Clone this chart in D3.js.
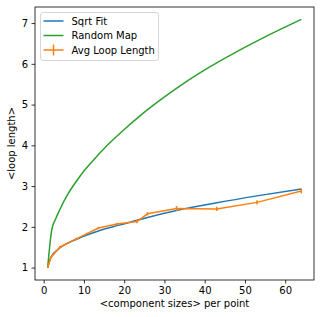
<!DOCTYPE html>
<html>
<head>
<meta charset="utf-8">
<script src="https://cdn.jsdelivr.net/npm/d3@7"></script>
<style>
  html, body { margin: 0; padding: 0; background: #fff; }
  svg text { font-family: "DejaVu Sans", sans-serif; font-size: 10px; fill: #000; }
  .spine { fill: none; stroke: #000; stroke-width: 0.8; }
  .tick line { stroke: #000; stroke-width: 0.8; }
</style>
</head>
<body>
<div id="chart"></div>
<script>
// values
var sizes      = [1, 1.8, 4, 8, 13.6, 18.2, 23.2, 25.8, 33, 43, 53, 64]
var avgLoop    = [1.0, 1.25, 1.5, 1.7, 1.97, 2.07, 2.13, 2.32, 2.45, 2.44, 2.6, 2.88]
var avgLoopErr = [0.01, 0.02, 0.03, 0.03, 0.03, 0.03, 0.04, 0.04, 0.06, 0.05, 0.05, 0.06]
var sqrtFit    = [1.0, 1.25, 1.48, 1.69, 1.9, 2.03, 2.16, 2.23, 2.4, 2.59, 2.76, 2.93]

var mapSizes   = [1, 2, 3, 4, 6, 8, 10, 12, 16, 20, 24, 28, 32, 40, 48, 56, 64]
var randomMap  = [1.0, 1.92, 2.2, 2.42, 2.8, 3.1, 3.37, 3.6, 4.02, 4.39, 4.73, 5.04, 5.33, 5.85, 6.3, 6.71, 7.09]

var xTicks = [0, 10, 20, 30, 40, 50, 60]
var yTicks = [1, 2, 3, 4, 5, 6, 7]

var width = 320
  , height = 317
  , margin = {top: 7, right: 6, bottom: 37, left: 35}
  , w = width - margin.left - margin.right
  , h = height - margin.top - margin.bottom

var svg = d3.select('#chart')
  .append('svg')
    .attr('width', width)
    .attr('height', height)

var g = svg.append('g')
  .attr('transform', 'translate(' + margin.left + ',' + margin.top + ')')

// matplotlib-style 5% margins around the data
var xPad = (64 - 1) * 0.05
  , yPad = (7.09 - 1) * 0.05
var x = d3.scaleLinear().domain([1 - xPad, 64 + xPad]).range([0, w])
var y = d3.scaleLinear().domain([1 - yPad, 7.09 + yPad]).range([h, 0])

var xAxis = g.append('g')
  .attr('transform', 'translate(0,' + h + ')')
  .call(d3.axisBottom(x).tickValues(xTicks).tickSize(3.5).tickPadding(3.5).tickFormat(d3.format('d')))
xAxis.select('.domain').remove()

var yAxis = g.append('g')
  .call(d3.axisLeft(y).tickValues(yTicks).tickSize(3.5).tickPadding(3.5).tickFormat(d3.format('d')))
yAxis.select('.domain').remove()

svg.selectAll('.tick text').attr('font-size', 10).attr('font-family', '"DejaVu Sans", sans-serif')

var line = d3.line()
  .x(function(d) { return x(d[0]) })
  .y(function(d) { return y(d[1]) })

// the fit and the random map are smooth curves in the original
var smooth = d3.line()
  .curve(d3.curveMonotoneX)
  .x(function(d) { return x(d[0]) })
  .y(function(d) { return y(d[1]) })

var plot = g.append('g')

plot.append('path')
  .datum(d3.zip(sizes, sqrtFit))
  .attr('fill', 'none')
  .attr('stroke', '#1f77b4')
  .attr('stroke-width', 1.5)
  .attr('d', smooth)

plot.append('path')
  .datum(d3.zip(mapSizes, randomMap))
  .attr('fill', 'none')
  .attr('stroke', '#2ca02c')
  .attr('stroke-width', 1.5)
  .attr('d', smooth)

var loop = d3.zip(sizes, avgLoop, avgLoopErr)

plot.append('path')
  .datum(loop)
  .attr('fill', 'none')
  .attr('stroke', '#ff7f0e')
  .attr('stroke-width', 1.5)
  .attr('d', line)

plot.selectAll('line.err')
  .data(loop)
  .enter().append('line')
    .attr('class', 'err')
    .attr('x1', function(d) { return x(d[0]) })
    .attr('x2', function(d) { return x(d[0]) })
    .attr('y1', function(d) { return y(d[1] - d[2]) })
    .attr('y2', function(d) { return y(d[1] + d[2]) })
    .attr('stroke', '#ff7f0e')
    .attr('stroke-width', 1.5)

// frame
g.append('rect')
  .attr('class', 'spine')
  .attr('width', w)
  .attr('height', h)

// axis labels
svg.append('text')
  .attr('x', margin.left + w / 2)
  .attr('y', 307)
  .attr('text-anchor', 'middle')
  .text('<component sizes> per point')

svg.append('text')
  .attr('transform', 'translate(15,' + (margin.top + h / 2) + ') rotate(-90)')
  .attr('text-anchor', 'middle')
  .text('<loop length>')

// legend
var legendItems = [
  {label: 'Sqrt Fit', color: '#1f77b4', err: false},
  {label: 'Random Map', color: '#2ca02c', err: false},
  {label: 'Avg Loop Length', color: '#ff7f0e', err: true}
]

var legend = svg.append('g').attr('transform', 'translate(40.5,12.5)')

legend.append('rect')
  .attr('width', 118)
  .attr('height', 48)
  .attr('rx', 2.5)
  .attr('fill', '#fff')
  .attr('fill-opacity', 0.8)
  .attr('stroke', '#cccccc')
  .attr('stroke-width', 0.8)

var rows = legend.selectAll('g.row')
  .data(legendItems)
  .enter().append('g')
    .attr('class', 'row')
    .attr('transform', function(d, i) { return 'translate(0,' + (8.5 + i * 14.5) + ')' })

rows.append('line')
  .attr('x1', 3)
  .attr('x2', 23)
  .attr('stroke', function(d) { return d.color })
  .attr('stroke-width', 1.5)

rows.filter(function(d) { return d.err })
  .append('line')
    .attr('x1', 13)
    .attr('x2', 13)
    .attr('y1', -5.5)
    .attr('y2', 5.5)
    .attr('stroke', function(d) { return d.color })
    .attr('stroke-width', 1.5)

rows.append('text')
  .attr('x', 31)
  .attr('dy', '0.35em')
  .text(function(d) { return d.label })
</script>
</body>
</html>
